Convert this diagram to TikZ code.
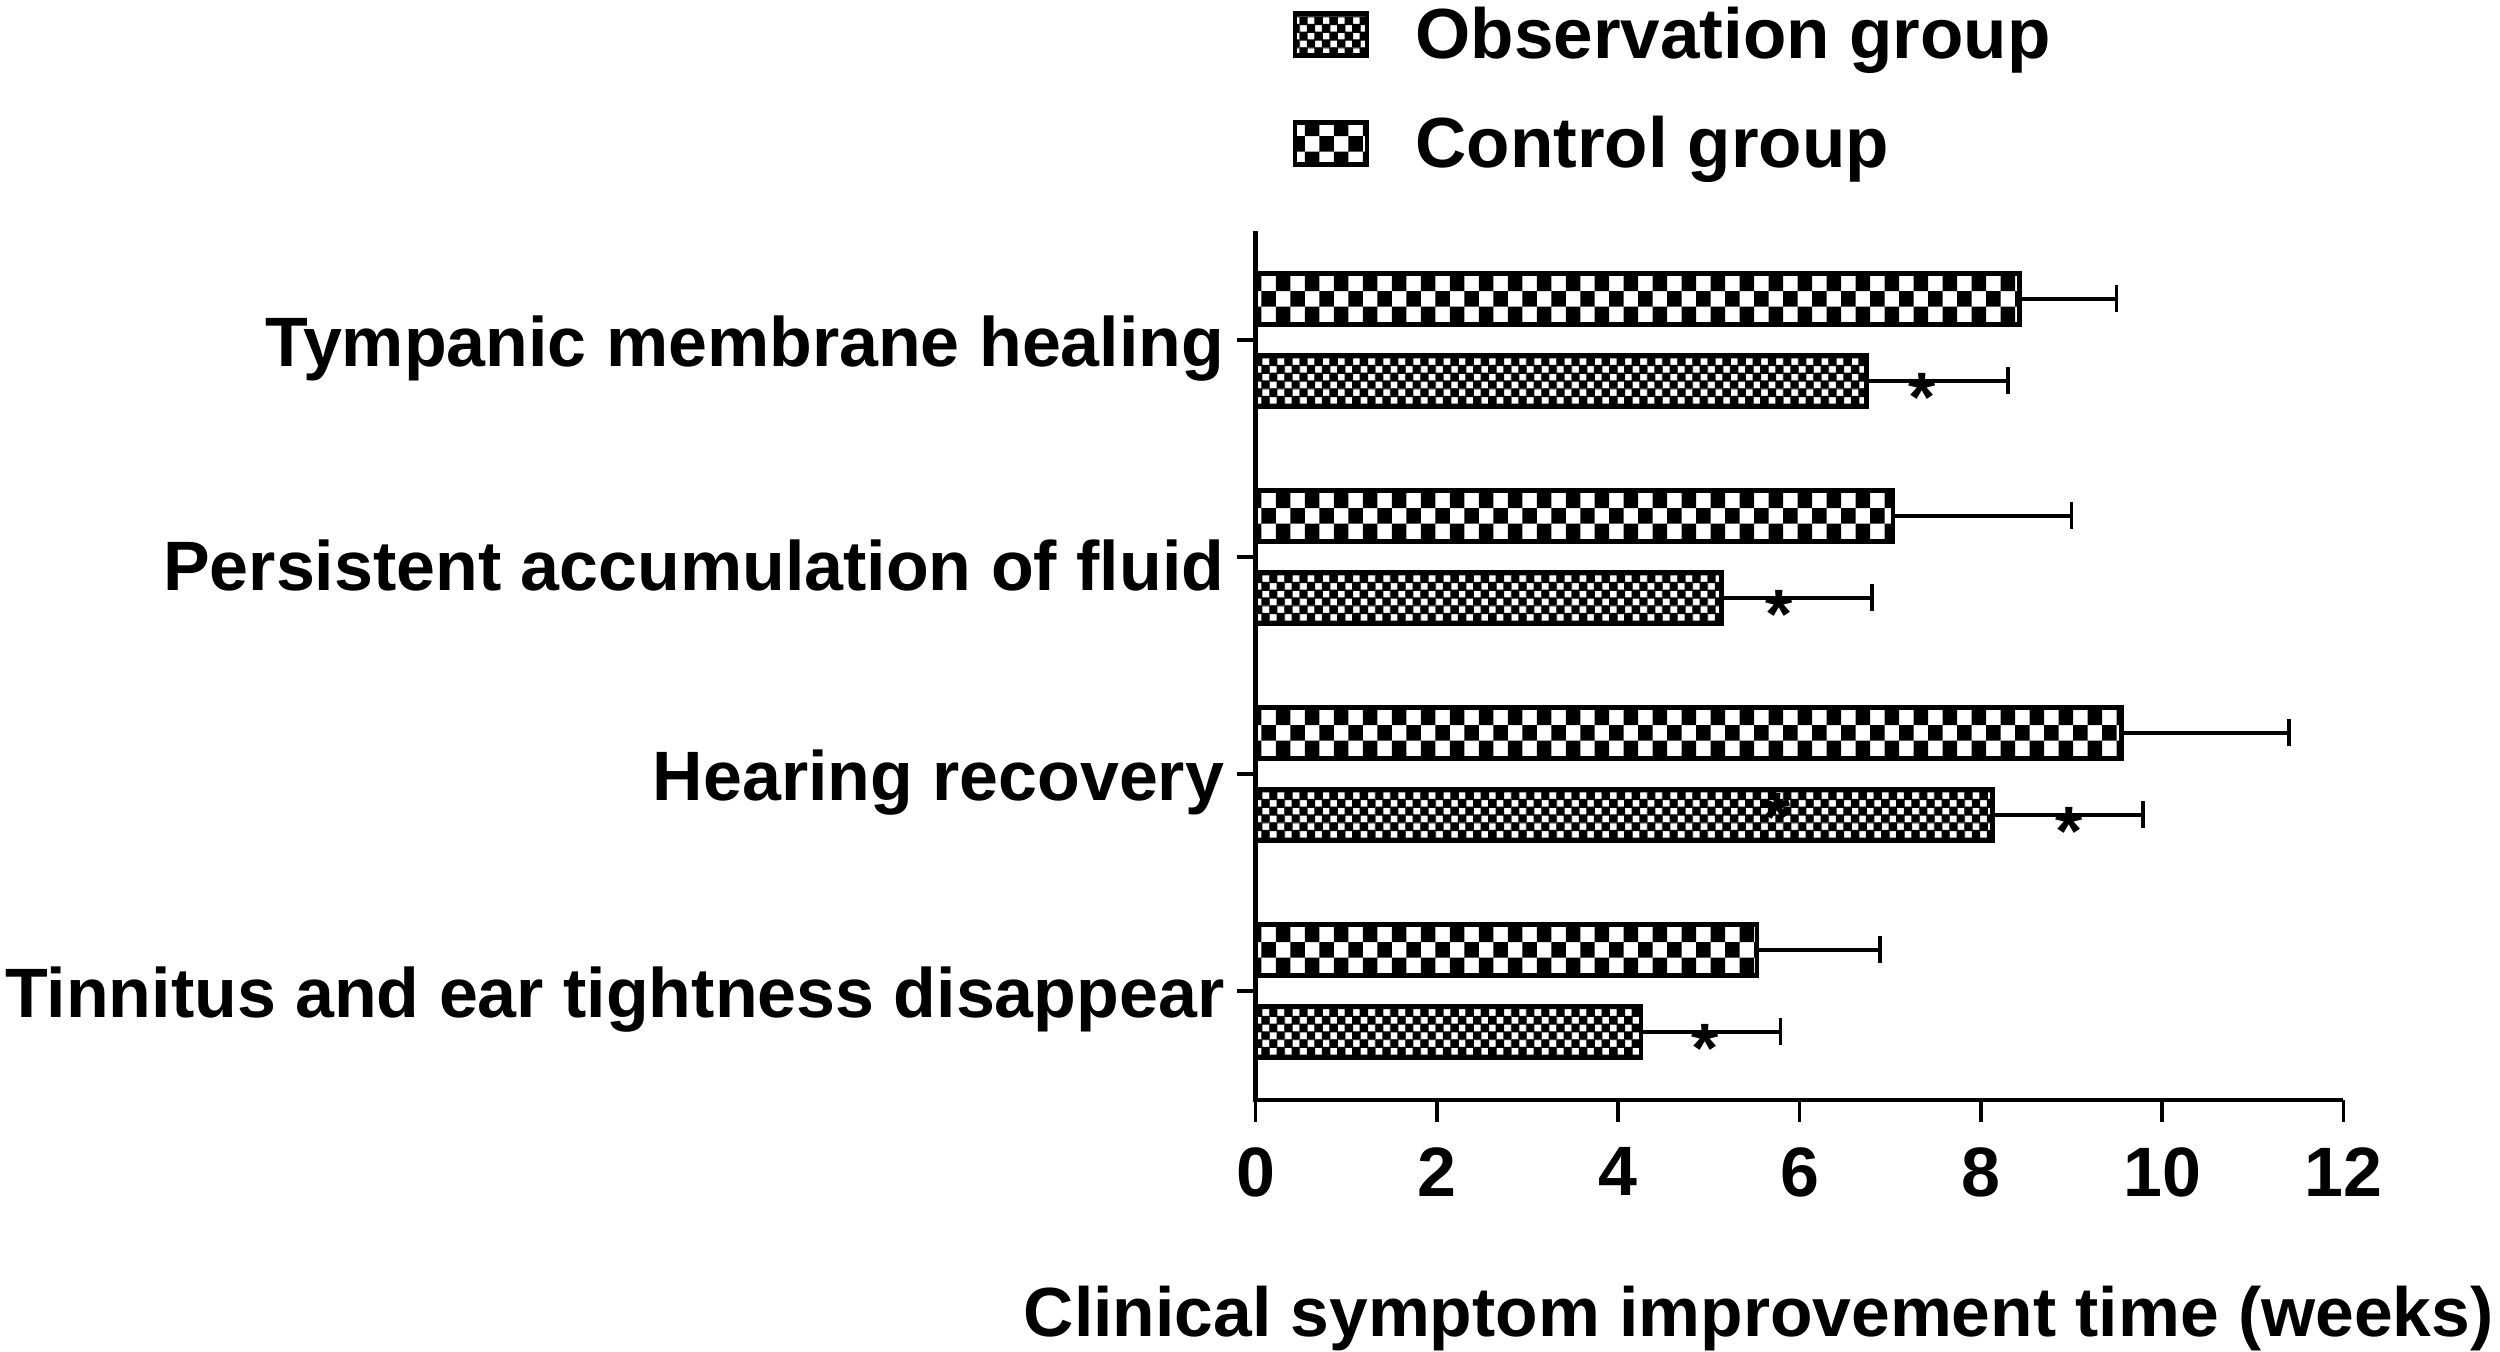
\documentclass[tikz,border=0pt]{standalone}
\usepackage{fontspec}
\setmainfont{Liberation Sans}
\usetikzlibrary{patterns,positioning,calc}

% control group: coarse checks, observation group: fine checks
\pgfdeclarepatternformonly{bigchecks}{\pgfqpoint{0pt}{1.93pt}}{\pgfqpoint{8.25pt}{10.75pt}}{\pgfqpoint{8.25pt}{8.82pt}}{%
  \pgfpathrectangle{\pgfqpoint{0pt}{1.93pt}}{\pgfqpoint{4.125pt}{4.41pt}}%
  \pgfpathrectangle{\pgfqpoint{4.125pt}{6.34pt}}{\pgfqpoint{4.125pt}{4.41pt}}%
  \pgfusepath{fill}}
\pgfdeclarepatternformonly{smallchecks}{\pgfqpoint{0pt}{0.65pt}}{\pgfqpoint{4.3pt}{5.06pt}}{\pgfqpoint{4.3pt}{4.41pt}}{%
  \pgfseteorule
  \pgfpathrectangle{\pgfqpoint{0pt}{0.65pt}}{\pgfqpoint{4.3pt}{4.41pt}}%
  \pgfpathrectangle{\pgfqpoint{0.125pt}{0.8pt}}{\pgfqpoint{1.9pt}{1.9pt}}%
  \pgfpathrectangle{\pgfqpoint{2.275pt}{3.005pt}}{\pgfqpoint{1.9pt}{1.9pt}}%
  \pgfusepath{fill}}

\begin{document}
\begin{tikzpicture}[x=0.9065cm, y=1cm,
    txt/.style={font=\fontsize{19.9}{24}\selectfont\bfseries, inner sep=0pt},
    ctlbar/.style={draw, line width=1.3pt, pattern=bigchecks, minimum height=0.51cm,
      inner sep=0pt, outer sep=0pt, anchor=west},
    obsbar/.style={ctlbar, pattern=smallchecks},
    err/.style={line width=1.4pt},
    errcap/.style={line width=1pt},
    signif/.style={txt, anchor=base, yshift=-11.6pt}]

  \useasboundingbox (-13.851,-2.52) rectangle (13.728,11.00);

  % legend
  \node[obsbar, anchor=center, minimum width=0.72cm, minimum height=0.42cm] (legobs) at (0.832,10.655) {};
  \node[ctlbar, anchor=center, minimum width=0.72cm, minimum height=0.42cm] (legctl) at (0.832,9.565) {};
  \node[txt, font=\fontsize{20.2}{24}\selectfont\bfseries, right=0.48cm of legobs, yshift=-0.06cm] (legobstxt) {Observation group};
  \node[txt, font=\fontsize{20.2}{24}\selectfont\bfseries, right=0.48cm of legctl, yshift=-0.06cm] (legctltxt) {Control group};

  % star half hidden in the hearing bar
  \node[signif] (sigx) at (5.75,2.99) {*};

  % axes
  \coordinate (o) at (0,0);
  \coordinate (ytop) at (0,8.69);
  \coordinate (xend) at (12,0);
  \draw[line width=1.2pt] (ytop) -- (o) -- (xend);

  \foreach \t in {0,2,...,12} {
    \coordinate (t\t) at (\t,0);
    \coordinate (tb\t) at (\t,-0.22);
    \draw[line width=1pt] (t\t) -- (tb\t);
    \node[txt, anchor=north] (tl\t) at (\t,-0.47) {\t};
  }

  % bars: group/label/control/control+sd/observation/observation+sd/star
  \foreach \k/\name/\c/\ce/\o/\oe/\s in {
      0/Tinnitus and ear tightness disappear/5.53/6.89/4.25/5.79/4.96,
      1/Hearing recovery/9.55/11.40/8.13/9.79/8.98,
      2/Persistent accumulation of fluid/7.03/9.00/5.14/6.80/5.78,
      3/Tympanic membrane healing/8.43/9.50/6.74/8.30/7.35} {
    \coordinate (g\k) at (0,1.09+2.17*\k);
    \coordinate (gt\k) at (-0.2,1.09+2.17*\k);
    \draw[line width=1pt] (g\k) -- (gt\k);
    \node[txt, anchor=east, yshift=-2.5pt] (lab\k) at (-0.338,1.09+2.17*\k) {\name};

    \node[ctlbar, minimum width=\c*0.9065cm] (ctl\k) at (0,1.50+2.17*\k) {};
    \node[obsbar, minimum width=\o*0.9065cm] (obs\k) at (0,0.68+2.17*\k) {};

    \coordinate (ectl\k) at (\ce,1.50+2.17*\k);
    \coordinate (eobs\k) at (\oe,0.68+2.17*\k);
    \draw[err] (ctl\k.east) -- (ectl\k);
    \draw[err] (obs\k.east) -- (eobs\k);
    \draw[errcap] ($(ectl\k)+(0,-0.135)$) -- ($(ectl\k)+(0,0.135)$);
    \draw[errcap] ($(eobs\k)+(0,-0.135)$) -- ($(eobs\k)+(0,0.135)$);

    \node[signif] (sig\k) at (\s,0.68+2.17*\k) {*};
  }

  \node[txt, font=\fontsize{19.8}{24}\selectfont\bfseries, anchor=base] (xtitle) at (5.55,-2.37) {Clinical symptom improvement time (weeks)};
\end{tikzpicture}
\end{document}
